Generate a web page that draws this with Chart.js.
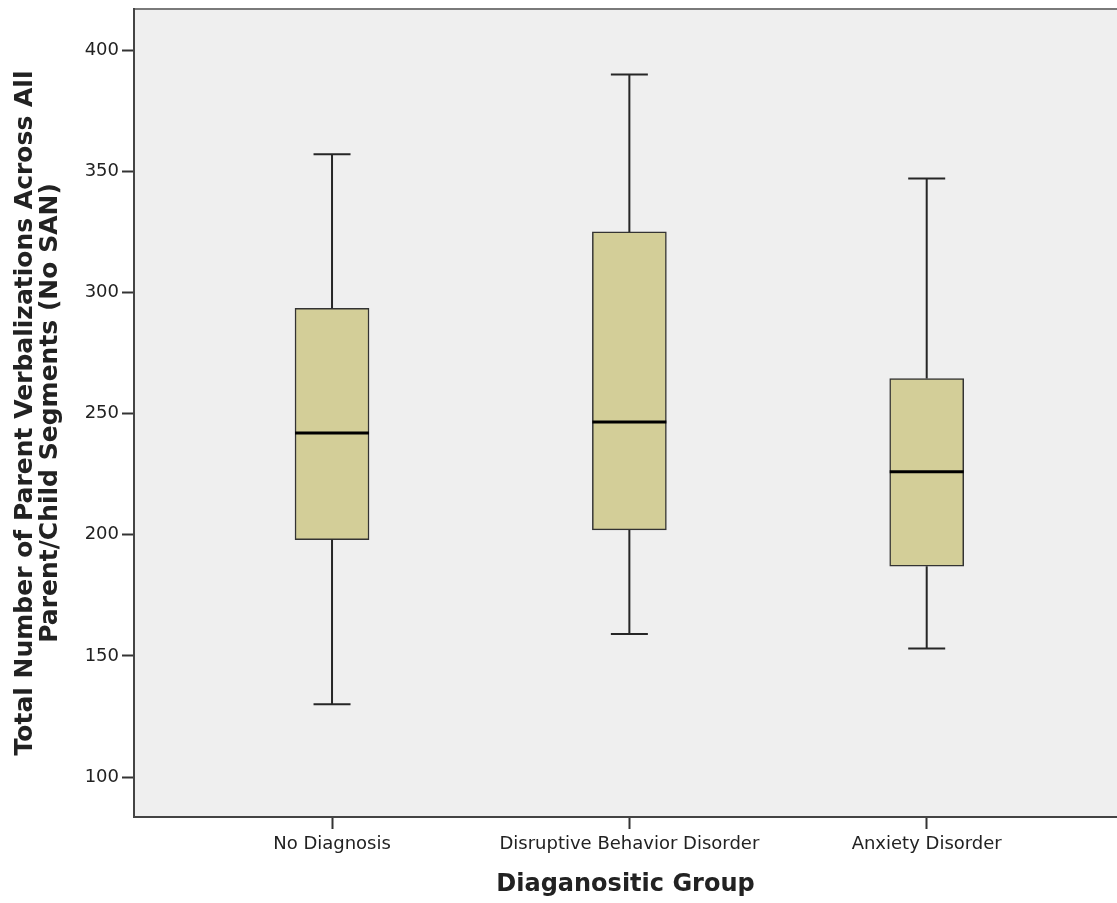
<!DOCTYPE html>
<html>
<head>
<meta charset="utf-8">
<script src="https://cdn.jsdelivr.net/npm/chart.js@4/dist/chart.umd.min.js"></script>
<style>
  html, body { margin: 0; padding: 0; background: #ffffff; }
  #wrap { width: 1117px; height: 903px; }
</style>
</head>
<body>
<div id="wrap"><canvas id="boxChart" width="1117" height="903"></canvas></div>
<script>
// box plot values
const categories = ['No Diagnosis', 'Disruptive Behavior Disorder', 'Anxiety Disorder'];
const whiskerLow = [130, 159, 153];
const q1 = [198, 202, 187];
const median = [242, 246.5, 226];
const q3 = [293.5, 325, 264.5];
const whiskerHigh = [357, 390, 347];
const yTicks = [100, 150, 200, 250, 300, 350, 400];

const fontFamily = '"DejaVu Sans", Verdana, sans-serif';
const textColor = '#222222';

// boxes as floating bars, x positions 1..n
const boxData = categories.map((c, i) => ({ x: i + 1, y: [q1[i], q3[i]] }));

// plot background + top frame line
const plotBackground = {
    id: 'plotBackground',
    beforeDraw(chart) {
        const { ctx, chartArea } = chart;
        ctx.save();
        ctx.fillStyle = '#efefef';
        ctx.fillRect(chartArea.left, chartArea.top, chartArea.right - chartArea.left, chartArea.bottom - chartArea.top);
        ctx.strokeStyle = '#7a7a7a';
        ctx.lineWidth = 2;
        ctx.beginPath();
        ctx.moveTo(chartArea.left, chartArea.top);
        ctx.lineTo(chartArea.right, chartArea.top);
        ctx.stroke();
        ctx.restore();
    }
};

// whiskers, caps and medians drawn through the chart's scales
const boxExtras = {
    id: 'boxExtras',
    afterDatasetsDraw(chart) {
        const { ctx } = chart;
        const xs = chart.scales.x;
        const ys = chart.scales.y;
        const meta = chart.getDatasetMeta(0);
        ctx.save();
        categories.forEach((c, i) => {
            const cx = xs.getPixelForValue(i + 1);
            const half = meta.data[i].width / 2;
            const cap = half / 2;
            ctx.strokeStyle = '#262626';
            ctx.lineWidth = 2;
            ctx.beginPath();
            ctx.moveTo(cx, ys.getPixelForValue(q3[i]));
            ctx.lineTo(cx, ys.getPixelForValue(whiskerHigh[i]));
            ctx.moveTo(cx, ys.getPixelForValue(q1[i]));
            ctx.lineTo(cx, ys.getPixelForValue(whiskerLow[i]));
            ctx.moveTo(cx - cap, ys.getPixelForValue(whiskerHigh[i]));
            ctx.lineTo(cx + cap, ys.getPixelForValue(whiskerHigh[i]));
            ctx.moveTo(cx - cap, ys.getPixelForValue(whiskerLow[i]));
            ctx.lineTo(cx + cap, ys.getPixelForValue(whiskerLow[i]));
            ctx.stroke();
            // median
            ctx.strokeStyle = '#000000';
            ctx.lineWidth = 3;
            ctx.beginPath();
            ctx.moveTo(cx - half, ys.getPixelForValue(median[i]));
            ctx.lineTo(cx + half, ys.getPixelForValue(median[i]));
            ctx.stroke();
        });
        ctx.restore();
    }
};

const ctx = document.getElementById('boxChart');

new Chart(ctx, {
    type: 'bar',
    data: {
        datasets: [{
            data: boxData,
            backgroundColor: '#d3ce98',
            borderColor: '#333333',
            borderWidth: 1.5,
            borderSkipped: false,
            barThickness: 74
        }]
    },
    options: {
        responsive: false,
        animation: false,
        layout: { padding: { top: 9, right: 0, left: 0, bottom: 0 } },
        plugins: {
            legend: { display: false },
            tooltip: { enabled: false }
        },
        scales: {
            x: {
                type: 'linear',
                offset: false,
                min: 0.334,
                max: 3.64,
                afterFit(scale) { scale.height = 86; },
                afterBuildTicks(scale) {
                    scale.ticks = categories.map((c, i) => ({ value: i + 1 }));
                },
                ticks: {
                    autoSkip: false,
                    maxRotation: 0,
                    padding: 5,
                    color: textColor,
                    font: { family: fontFamily, size: 18 },
                    callback: (v) => categories[v - 1]
                },
                grid: {
                    offset: false,
                    drawOnChartArea: false,
                    drawTicks: true,
                    tickLength: 12,
                    tickWidth: 2,
                    tickColor: '#333333'
                },
                border: { display: true, color: '#444444', width: 2 },
                title: {
                    display: true,
                    text: 'Diaganositic Group',
                    color: textColor,
                    font: { family: fontFamily, size: 24, weight: 'bold', lineHeight: 1.2 },
                    padding: { top: 0, bottom: 4 }
                }
            },
            y: {
                min: 83.5,
                max: 417,
                afterFit(scale) {
                    scale.width = 134;
                    scale.paddingTop = 0;
                    scale.paddingBottom = 0;
                },
                afterBuildTicks(scale) {
                    scale.ticks = yTicks.map(v => ({ value: v }));
                },
                ticks: {
                    padding: 3,
                    color: textColor,
                    font: { family: fontFamily, size: 18 }
                },
                grid: {
                    drawOnChartArea: false,
                    drawTicks: true,
                    tickLength: 12,
                    tickWidth: 2,
                    tickColor: '#333333'
                },
                border: { display: true, color: '#444444', width: 2 },
                title: {
                    display: true,
                    text: ['Total Number of Parent Verbalizations Across All', 'Parent/Child Segments (No SAN)'],
                    color: textColor,
                    font: { family: fontFamily, size: 25, weight: 'bold', lineHeight: 1.0 },
                    padding: { top: 13, bottom: 0 }
                }
            }
        }
    },
    plugins: [plotBackground, boxExtras]
});
</script>
</body>
</html>
